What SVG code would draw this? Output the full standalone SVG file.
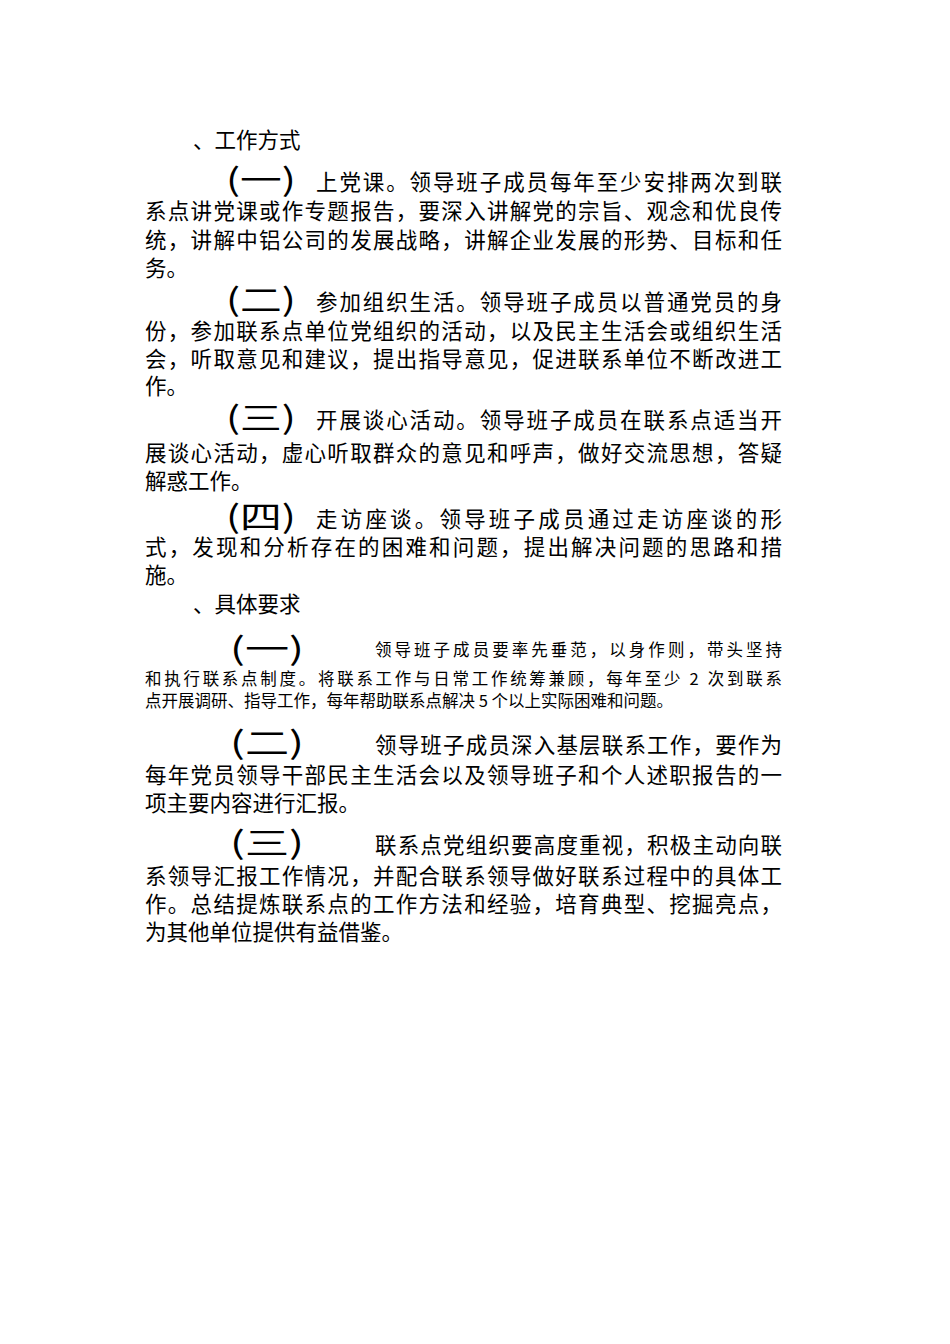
<svg xmlns="http://www.w3.org/2000/svg" width="950" height="1344" viewBox="0 0 950 1344">
<style>
text{font-family:"Noto Sans CJK SC","Noto Sans",sans-serif;fill:#000}
.t{font-size:21.5px}
.s{font-size:16.5px}
.b{font-size:31px}
</style>
<rect width="950" height="1344" fill="#fff"/>
<g id="text">
<text class="t" x="193" y="148">、工作方式</text>
<text class="b" x="226" y="191" textLength="70" lengthAdjust="spacingAndGlyphs">(一)</text>
<text class="t" x="316" y="190" textLength="466">上党课。领导班子成员每年至少安排两次到联</text>
<text class="t" x="145" y="219" textLength="637">系点讲党课或作专题报告，要深入讲解党的宗旨、观念和优良传</text>
<text class="t" x="145" y="248" textLength="637">统，讲解中铝公司的发展战略，讲解企业发展的形势、目标和任</text>
<text class="t" x="145" y="276">务。</text>
<text class="b" x="226" y="311" textLength="70" lengthAdjust="spacingAndGlyphs">(二)</text>
<text class="t" x="316" y="310" textLength="466">参加组织生活。领导班子成员以普通党员的身</text>
<text class="t" x="145" y="339" textLength="637">份，参加联系点单位党组织的活动，以及民主生活会或组织生活</text>
<text class="t" x="145" y="367" textLength="637">会，听取意见和建议，提出指导意见，促进联系单位不断改进工</text>
<text class="t" x="145" y="394">作。</text>
<text class="b" x="226" y="429" textLength="70" lengthAdjust="spacingAndGlyphs">(三)</text>
<text class="t" x="316" y="428" textLength="466">开展谈心活动。领导班子成员在联系点适当开</text>
<text class="t" x="145" y="461" textLength="637">展谈心活动，虚心听取群众的意见和呼声，做好交流思想，答疑</text>
<text class="t" x="145" y="489">解惑工作。</text>
<text class="b" x="226" y="528" textLength="70" lengthAdjust="spacingAndGlyphs">(四)</text>
<text class="t" x="316" y="527" textLength="466">走访座谈。领导班子成员通过走访座谈的形</text>
<text class="t" x="145" y="555" textLength="637">式，发现和分析存在的困难和问题，提出解决问题的思路和措</text>
<text class="t" x="145" y="583">施。</text>
<text class="t" x="193" y="612">、具体要求</text>
<text class="b" x="230" y="660" textLength="74" lengthAdjust="spacingAndGlyphs">(一)</text>
<text class="s" x="375" y="656" textLength="407">领导班子成员要率先垂范，以身作则，带头坚持</text>
<text class="s" x="145" y="685" textLength="637">和执行联系点制度。将联系工作与日常工作统筹兼顾，每年至少 2 次到联系</text>
<text class="s" x="145" y="707">点开展调研、指导工作，每年帮助联系点解决 5 个以上实际困难和问题。</text>
<text class="b" x="230" y="754" textLength="74" lengthAdjust="spacingAndGlyphs">(二)</text>
<text class="t" x="375" y="753" textLength="407">领导班子成员深入基层联系工作，要作为</text>
<text class="t" x="145" y="783" textLength="637">每年党员领导干部民主生活会以及领导班子和个人述职报告的一</text>
<text class="t" x="145" y="811">项主要内容进行汇报。</text>
<text class="b" x="230" y="854" textLength="74" lengthAdjust="spacingAndGlyphs">(三)</text>
<text class="t" x="375" y="853" textLength="407">联系点党组织要高度重视，积极主动向联</text>
<text class="t" x="145" y="884" textLength="637">系领导汇报工作情况，并配合联系领导做好联系过程中的具体工</text>
<text class="t" x="145" y="912" textLength="637">作。总结提炼联系点的工作方法和经验，培育典型、挖掘亮点，</text>
<text class="t" x="145" y="940">为其他单位提供有益借鉴。</text>
</g>
</svg>
